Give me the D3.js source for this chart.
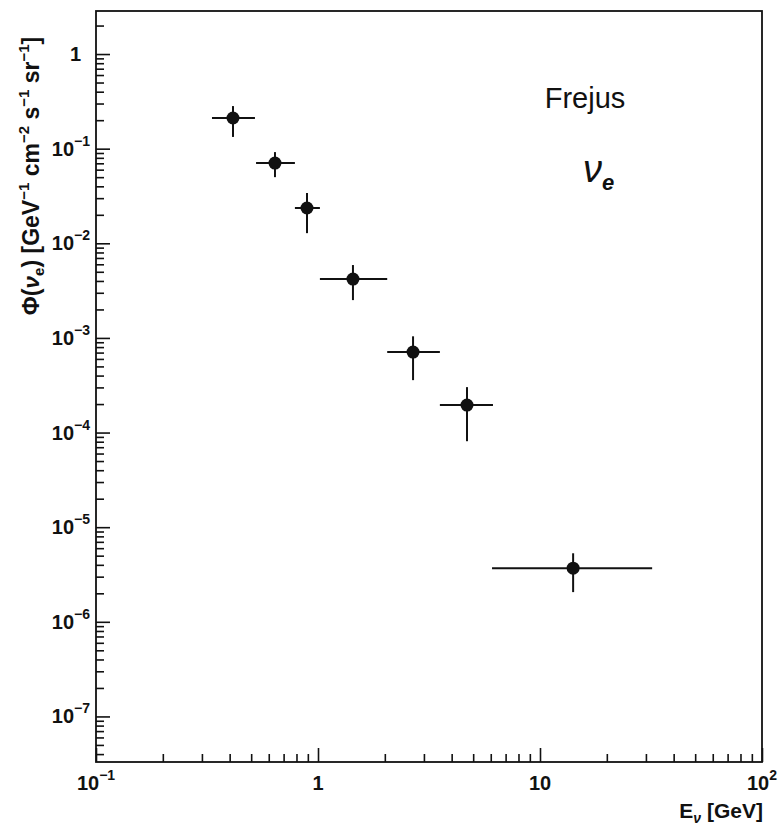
<!DOCTYPE html>
<html>
<head>
<meta charset="utf-8">
<script src="https://cdn.jsdelivr.net/npm/d3@7"></script>
<style>
  body { margin: 0; background: #fff; }
  text { font-family: "Liberation Sans", Arial, sans-serif; fill: #111; }
</style>
</head>
<body>
<div id="painting"></div>
<script>
// neutrino energy (GeV) and flux, with bin edges and error bar ends
var energy  = [0.414, 0.64, 0.892, 1.437, 2.68, 4.69, 14.1];
var eLow    = [0.333, 0.526, 0.787, 1.02, 2.05, 3.54, 6.08];
var eHigh   = [0.52, 0.787, 1.02, 2.05, 3.54, 6.14, 32];
var flux    = [0.211, 0.0704, 0.0236, 0.00419, 7.08e-4, 1.95e-4, 3.69e-6];
var fluxHi  = [0.282, 0.092, 0.034, 0.00589, 1.04e-3, 3.02e-4, 5.3e-6];
var fluxLo  = [0.133, 0.050, 0.0128, 0.00251, 3.58e-4, 8.1e-5, 2.06e-6];

var xDomain = [0.1, 100];
var yDomain = [3.3e-8, 2.85];
var xTickVals = [0.1, 1, 10, 100];
var xTickText = [["10", "-1"], ["1", ""], ["10", ""], ["10", "2"]];
var yTickVals = [1, 1e-1, 1e-2, 1e-3, 1e-4, 1e-5, 1e-6, 1e-7];
var yTickText = [["1", ""], ["10", "-1"], ["10", "-2"], ["10", "-3"], ["10", "-4"], ["10", "-5"], ["10", "-6"], ["10", "-7"]];

var margin = {top: 11, right: 16, bottom: 65, left: 96};
var W = 778, H = 827;
var w = W - margin.left - margin.right;
var h = H - margin.top - margin.bottom;

var svg = d3.select("#painting").append("svg")
  .attr("width", W).attr("height", H);
var g = svg.append("g")
  .attr("transform", "translate(" + margin.left + "," + margin.top + ")");

var xScale = d3.scaleLog().domain(xDomain).range([0, w]);
var yScale = d3.scaleLog().domain(yDomain).range([h, 0]);

// minor + major ticks, pointing inward
function logTicks(lo, hi) {
  var out = [];
  for (var e = Math.floor(Math.log10(lo)); e <= Math.ceil(Math.log10(hi)); e++) {
    for (var k = 1; k < 10; k++) {
      var v = k * Math.pow(10, e);
      if (v >= lo && v <= hi) out.push(v);
    }
  }
  return out;
}
function isMajor(v) { return Math.abs(Math.log10(v) - Math.round(Math.log10(v))) < 1e-6; }

var xAxis = d3.axisBottom(xScale).tickValues(logTicks(xDomain[0], xDomain[1]))
  .tickSize(0).tickFormat("");
var yAxis = d3.axisLeft(yScale).tickValues(logTicks(yDomain[0], yDomain[1]))
  .tickSize(0).tickFormat("");

var gx = g.append("g").attr("transform", "translate(0," + h + ")").call(xAxis);
gx.selectAll(".tick line").attr("y2", function(d) { return isMajor(d) ? -14 : -8; })
  .attr("stroke", "#111").attr("stroke-width", 1.6);
gx.select(".domain").remove();

var gy = g.append("g").call(yAxis);
gy.selectAll(".tick line").attr("x2", function(d) { return isMajor(d) ? 14 : 8; })
  .attr("stroke", "#111").attr("stroke-width", 1.6);
gy.select(".domain").remove();

// frame
g.append("rect").attr("x", 0).attr("y", 0).attr("width", w).attr("height", h)
  .attr("fill", "none").attr("stroke", "#111").attr("stroke-width", 1.8);

// tick labels
var xl = g.selectAll(".xlab").data(xTickVals).enter().append("text")
  .attr("class", "xlab")
  .attr("x", function(d) { return xScale(d); })
  .attr("y", h + 28)
  .attr("text-anchor", "middle")
  .attr("font-size", 20).attr("font-weight", "bold");
xl.append("tspan").text(function(d, i) { return xTickText[i][0]; });
xl.append("tspan").attr("dy", -10).attr("font-size", 14)
  .text(function(d, i) { return xTickText[i][1] ? xTickText[i][1].replace("-", "\u2212") : ""; });

var yl = g.selectAll(".ylab").data(yTickVals).enter().append("text")
  .attr("class", "ylab")
  .attr("x", -6)
  .attr("y", function(d) { return yScale(d) + 7; })
  .attr("text-anchor", "end")
  .attr("font-size", 20).attr("font-weight", "bold");
yl.append("tspan").text(function(d, i) { return yTickText[i][0]; });
yl.append("tspan").attr("dy", -10).attr("font-size", 14)
  .text(function(d, i) { return yTickText[i][1] ? yTickText[i][1].replace("-", "\u2212") : ""; });
// keep "1" aligned with the other labels' numbers
yl.filter(function(d, i) { return yTickText[i][1] === ""; }).attr("x", -15);

// error bars
var pts = energy.map(function(e, i) {
  return {e: e, lo: eLow[i], hi: eHigh[i], f: flux[i], fl: fluxLo[i], fh: fluxHi[i]};
});
var eb = g.selectAll(".pt").data(pts).enter().append("g").attr("class", "pt");
eb.append("line")
  .attr("x1", function(d) { return xScale(d.lo); })
  .attr("x2", function(d) { return xScale(d.hi); })
  .attr("y1", function(d) { return yScale(d.f); })
  .attr("y2", function(d) { return yScale(d.f); })
  .attr("stroke", "#111").attr("stroke-width", 2);
eb.append("line")
  .attr("x1", function(d) { return xScale(d.e); })
  .attr("x2", function(d) { return xScale(d.e); })
  .attr("y1", function(d) { return yScale(d.fh); })
  .attr("y2", function(d) { return yScale(d.fl); })
  .attr("stroke", "#111").attr("stroke-width", 2);
eb.append("circle")
  .attr("cx", function(d) { return xScale(d.e); })
  .attr("cy", function(d) { return yScale(d.f); })
  .attr("r", 6.5).attr("fill", "#111");

// axis titles
var xt = svg.append("text")
  .attr("x", 763).attr("y", 818)
  .attr("text-anchor", "end")
  .attr("font-size", 21).attr("font-weight", "bold");
xt.append("tspan").text("E");
xt.append("tspan").attr("dy", 5).attr("font-size", 14).attr("font-style", "italic").text("\u03bd");
xt.append("tspan").attr("dy", -5).text(" [GeV]");

var yt = svg.append("text")
  .attr("transform", "translate(39,176) rotate(-90)")
  .attr("text-anchor", "middle")
  .attr("font-size", 23).attr("font-weight", "bold");
yt.append("tspan").text("\u03a6(");
yt.append("tspan").attr("font-style", "italic").text("\u03bd");
yt.append("tspan").attr("dy", 5).attr("font-size", 15).text("e");
yt.append("tspan").attr("dy", -5).text(") [GeV");
yt.append("tspan").attr("dy", -10).attr("font-size", 15).text("\u22121");
yt.append("tspan").attr("dy", 10).text(" cm");
yt.append("tspan").attr("dy", -10).attr("font-size", 15).text("\u22122");
yt.append("tspan").attr("dy", 10).text(" s");
yt.append("tspan").attr("dy", -10).attr("font-size", 15).text("\u22121");
yt.append("tspan").attr("dy", 10).text(" sr");
yt.append("tspan").attr("dy", -10).attr("font-size", 15).text("\u22121");
yt.append("tspan").attr("dy", 10).text("]");

// annotations
svg.append("text").attr("x", 585).attr("y", 108)
  .attr("text-anchor", "middle").attr("font-size", 29).text("Frejus");
var nu = svg.append("text").attr("x", 583).attr("y", 182)
  .attr("text-anchor", "start").attr("font-size", 38)
  .attr("font-family", "DejaVu Serif, serif").attr("font-style", "italic");
nu.append("tspan").text("\u03bd");
nu.append("tspan").attr("dy", 8).attr("font-size", 22).attr("font-weight", "bold").text("e");
</script>
</body>
</html>
